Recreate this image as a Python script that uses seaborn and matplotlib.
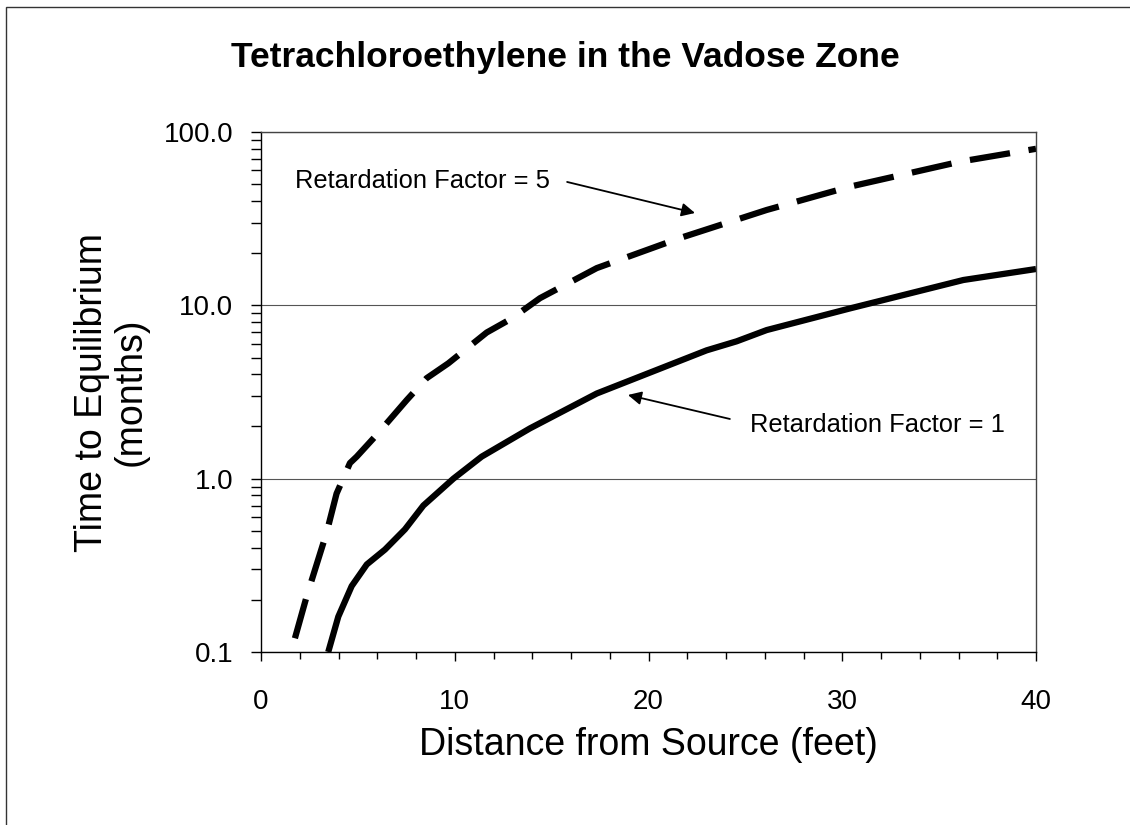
import matplotlib
matplotlib.use("Agg")
import matplotlib.pyplot as plt
import matplotlib.ticker as mticker
from matplotlib.patches import Rectangle
import seaborn as sns
import pandas as pd

# ---- data ----
dist_r1 = [3.47, 3.99, 4.68, 5.46, 6.4, 7.43, 8.38, 9.93, 11.39, 13.88,
           17.33, 23.0, 24.55, 26.1, 30.4, 36.25, 40.0]
time_r1 = [0.10, 0.16, 0.24, 0.32, 0.39, 0.51, 0.70, 1.0, 1.34, 1.95,
           3.1, 5.5, 6.2, 7.2, 9.6, 14.0, 16.2]

dist_r5 = [1.75, 2.36, 3.39, 3.9, 4.59, 4.94, 5.97, 7.52, 8.55, 9.67,
           11.65, 12.94, 14.4, 17.33, 21.6, 26.1, 30.4, 36.1, 40.0]
time_r5 = [0.12, 0.21, 0.49, 0.82, 1.23, 1.34, 1.79, 2.84, 3.8, 4.63,
           6.97, 8.4, 11.0, 16.4, 24.4, 35.5, 48.4, 67.5, 80.0]

x_ticks = [0, 10, 20, 30, 40]
y_ticks = [0.1, 1.0, 10.0, 100.0]

title = "Tetrachloroethylene in the Vadose Zone"
x_label = "Distance from Source (feet)"
y_label = "Time to Equilibrium\n(months)"
label_r5 = "Retardation Factor = 5"
label_r1 = "Retardation Factor = 1"

df1 = pd.DataFrame({"dist": dist_r1, "time": time_r1})
df5 = pd.DataFrame({"dist": dist_r5, "time": time_r5})

sns.set_style("white")
plt.rcParams["font.family"] = ["Liberation Sans", "DejaVu Sans"]
plt.rcParams["text.color"] = "black"
plt.rcParams["axes.labelcolor"] = "black"
plt.rcParams["xtick.color"] = "black"
plt.rcParams["ytick.color"] = "black"

fig = plt.figure(figsize=(11.30, 8.25), dpi=100)
ax = fig.add_axes([261 / 1130, 1 - 652 / 825, (1036 - 261) / 1130, (652 - 132) / 825])

ax.set_yscale("log")
ax.set_xlim(0, 40)
ax.set_ylim(0.1, 100)

# grid lines at major y ticks
ax.yaxis.grid(True, which="major", color="#555555", linewidth=0.8)
ax.xaxis.grid(False)
ax.set_axisbelow(True)

sns.lineplot(data=df1, x="dist", y="time", color="black", linewidth=4.5,
             ax=ax, solid_capstyle="butt", clip_on=True)
sns.lineplot(data=df5, x="dist", y="time", color="black", linewidth=4.5,
             ax=ax, clip_on=True)
ax.lines[-1].set_dashes((6.5, 3.0))
ax.lines[-1].set_dash_capstyle("butt")

# ticks
ax.set_xticks(x_ticks)
ax.set_xticklabels([str(v) for v in x_ticks])
ax.xaxis.set_minor_locator(mticker.MultipleLocator(2))
ax.set_yticks(y_ticks)
ax.yaxis.set_major_formatter(mticker.FuncFormatter(lambda v, p: f"{v:.1f}"))
ax.yaxis.set_minor_locator(mticker.LogLocator(base=10, subs=range(2, 10)))
ax.yaxis.set_minor_formatter(mticker.NullFormatter())

ax.tick_params(axis="x", which="major", direction="out", length=6.5, width=1.0,
               color="black", labelcolor="black", labelsize=20, pad=20, bottom=True)
ax.tick_params(axis="x", which="minor", direction="out", length=5, width=1.0,
               color="black", bottom=True)
ax.tick_params(axis="y", which="major", direction="out", length=7, width=1.0,
               color="black", labelcolor="black", labelsize=20, pad=13, left=True)
ax.tick_params(axis="y", which="minor", direction="out", length=7, width=1.0,
               color="black", left=True)

for s in ax.spines.values():
    s.set_visible(True)
    s.set_color("black")
    s.set_linewidth(1.0)
ax.spines["top"].set_color("#444444")
ax.spines["right"].set_color("#444444")

ax.set_xlabel("")
ax.set_ylabel("")

# annotations
ax.text(1.75, 52.3, label_r5, fontsize=18.4, ha="left", va="center", color="black")
ax.annotate("", xy=(22.4, 34.1), xytext=(15.8, 51.5),
            arrowprops=dict(arrowstyle="-|>", color="black", lw=1.3,
                            mutation_scale=20, shrinkA=0, shrinkB=0))
ax.text(25.24, 2.04, label_r1, fontsize=18.4, ha="left", va="center", color="black")
ax.annotate("", xy=(18.94, 3.04), xytext=(24.2, 2.21),
            arrowprops=dict(arrowstyle="-|>", color="black", lw=1.3,
                            mutation_scale=20, shrinkA=0, shrinkB=0))

# titles and labels
fig.text(565 / 1130, 1 - 57 / 825, title, fontsize=25.5, fontweight="bold",
         ha="center", va="center", color="black")
fig.text(648.5 / 1130, 1 - 745 / 825, x_label, fontsize=27, ha="center",
         va="center", color="black")
fig.text(111 / 1130, 1 - 392 / 825, y_label, fontsize=27, ha="center", va="center",
         rotation=90, multialignment="center", linespacing=1.1, color="black")

# outer frame
fig.patches.append(Rectangle((6 / 1130, -0.05), 1.2, 1 - 7 / 825 + 0.05,
                             transform=fig.transFigure, fill=False,
                             edgecolor="#333333", linewidth=1.0))

fig.savefig("out.png", dpi=100, facecolor="white")
